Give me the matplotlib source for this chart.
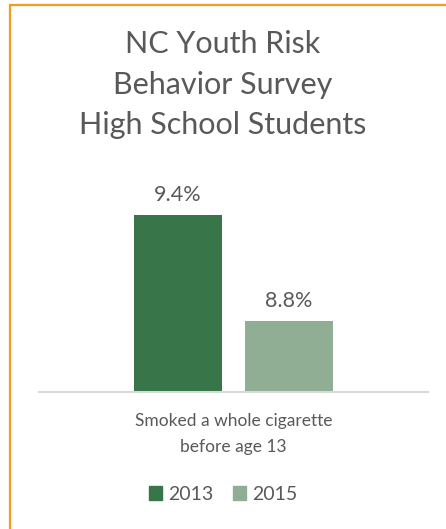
import matplotlib.pyplot as plt
import matplotlib.patches as mpatches

years = ["2013", "2015"]
values = [9.4, 8.8]
category = "Smoked a whole cigarette\nbefore age 13"
colors = ["#38764a", "#8fae94"]
title = "NC Youth Risk\nBehavior Survey\nHigh School Students"

plt.rcParams['font.family'] = ['Lato', 'DejaVu Sans']
txt = "#595959"

fig = plt.figure(figsize=(4.46, 5.29), dpi=100)
ax = fig.add_axes([0.087, 0.259, 0.873, 0.401])

offsets = [-0.143, 0.143]
handles = []
for yr, v, c, off in zip(years, values, colors, offsets):
    b = ax.bar(off, v, width=0.226, color=c, bottom=0)
    ax.text(off, v + 0.06, f"{v}%", ha="center", va="bottom", fontsize=15.5, color=txt)
    handles.append(mpatches.Patch(color=c, label=yr))

ax.set_ylim(8.4, 9.6)
ax.set_xlim(-0.5, 0.5)
ax.set_yticks([])
ax.set_xticks([0])
ax.set_xticklabels([category], fontsize=12.5, color=txt, linespacing=1.75)
ax.tick_params(axis="x", length=0, pad=15)
for s in ["top", "right", "left"]:
    ax.spines[s].set_visible(False)
ax.spines["bottom"].set_color("#d9d9d9")
ax.spines["bottom"].set_linewidth(1.5)

fig.text(0.5, 0.84, title, ha="center", va="center", fontsize=22, color=txt, linespacing=1.55)

fig.legend(handles=handles, loc="center", bbox_to_anchor=(0.5, 0.066), ncol=2, frameon=False,
           fontsize=14, labelcolor=txt, handlelength=0.7, handleheight=0.7,
           handletextpad=0.3, columnspacing=1.0)

border = mpatches.Rectangle((9.5 / 446, -0.02), 1.0, (529 - 4.5) / 529 + 0.02,
                            transform=fig.transFigure, fill=False, edgecolor="#f59b1a",
                            linewidth=1.6, clip_on=False)
fig.patches.append(border)

fig.savefig("out.png", dpi=100, facecolor="white")
